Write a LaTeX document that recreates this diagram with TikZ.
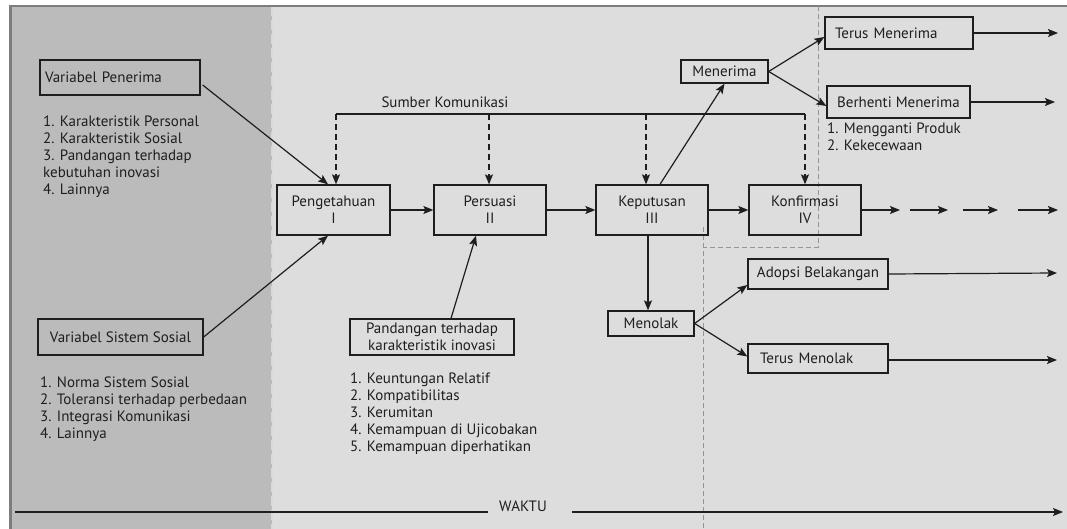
\documentclass[tikz,border=0pt]{standalone}
\usepackage{fontspec}
\setmainfont{PT Sans}
\usetikzlibrary{arrows.meta,calc}
\definecolor{darkbg}{RGB}{187,187,187}
\definecolor{lightbg}{RGB}{221,221,221}
\definecolor{framecol}{RGB}{125,125,125}
\definecolor{guide}{RGB}{150,150,150}
\definecolor{ink}{RGB}{30,30,30}
\begin{document}
\begin{tikzpicture}[x=1pt,y=-1pt,
  font=\fontsize{15}{17}\selectfont,
  box/.style={draw=ink, line width=1.3pt, inner sep=0pt, text=ink, align=center},
  arr/.style={draw=ink, line width=1.2pt, -{Stealth[length=10pt,width=8pt,inset=2pt]}},
  dasharr/.style={arr, dash pattern=on 6pt off 4pt},
  plain/.style={draw=ink, line width=1.2pt},
  lst/.style={anchor=north west, align=left, inner sep=0pt, text=ink},
  guideline/.style={draw=guide, line width=1pt, dash pattern=on 5pt off 3pt}]
\useasboundingbox (0,0) rectangle (1067,529);
% background panels
\fill[lightbg] (10,6) rectangle (1067,529);
\fill[darkbg] (10,6) rectangle (272,529);
\draw[gray!30, line width=1.5pt, dash pattern=on 10pt off 4pt] (272,6) -- (272,529);
\draw[framecol, line width=2pt] (1067,6) -- (10,6);
\draw[framecol, line width=3pt] (10,529) -- (10,5);

% guide dashed line
\draw[guideline] (818,6) -- (818,247) -- (703,247);
\draw[guideline] (703,227) -- (703,529);

% boxes
\node[box, minimum width=160, minimum height=35, text width=150, align=left] (vp) at (120,77.5) {Variabel Penerima};
\node[box, minimum width=165, minimum height=36] (vss) at (120.5,337) {Variabel Sistem Sosial};
\node[box, minimum width=113, minimum height=50] (peng) at (333.5,210) {Pengetahuan\\I};
\node[box, minimum width=112, minimum height=50] (pers) at (490,210) {Persuasi\\II};
\node[box, minimum width=112, minimum height=50] (kep) at (652,210) {Keputusan\\III};
\node[box, minimum width=112, minimum height=50] (konf) at (805,210) {Konfirmasi\\IV};
\node[box, minimum width=87, minimum height=23] (men) at (724.5,71.5) {Menerima};
\node[box, minimum width=148, minimum height=32, text width=128, align=left] (tm) at (899,33) {Terus Menerima};
\node[box, minimum width=143, minimum height=32] (bm) at (898.5,102) {Berhenti Menerima};
\node[box, minimum width=86, minimum height=25] (tolak) at (651,323.5) {Menolak};
\node[box, minimum width=140, minimum height=30] (ab) at (818,274) {Adopsi Belakangan};
\node[box, minimum width=140, minimum height=29, text width=116, align=left] (tmo) at (818,358.5) {Terus Menolak};
\node[box, minimum width=164, minimum height=36] (pand) at (432,337) {Pandangan terhadap\\karakteristik inovasi};

% lists
\node[lst] (vpl) at (43,116) {1. Karakteristik Personal\\2. Karakteristik Sosial\\3. Pandangan terhadap\\kebutuhan inovasi\\4. Lainnya};
\node[lst] (vssl) at (40,377) {1. Norma Sistem Sosial\\2. Toleransi terhadap perbedaan\\3. Integrasi Komunikasi\\4. Lainnya};
\node[lst] (pandl) at (350,373) {1. Keuntungan Relatif\\2. Kompatibilitas\\3. Kerumitan\\4. Kemampuan di Ujicobakan\\5. Kemampuan diperhatikan};
\node[lst] (bml) at (827,123) {1. Mengganti Produk\\2. Kekecewaan};

% communication sources
\node[text=ink, inner sep=0pt] (sk) at (445,102) {Sumber Komunikasi};
\coordinate (s1) at (336,114);
\coordinate (s2) at (489,114);
\coordinate (s3) at (646,114);
\coordinate (s4) at (805,114);
\draw[plain] (s1) -- (s4);
\draw[dasharr] (s1) -- (s1 |- peng.north);
\draw[dasharr] (s2) -- (s2 |- pers.north);
\draw[dasharr] (s3) -- (s3 |- kep.north);
\draw[dasharr] (s4) -- (s4 |- konf.north);

% connectors
\draw[arr] ($(vp.east)+(2,7.5)$) -- ($(peng.north)+(-5.5,0)$);
\draw[arr] (vss.east) -- ($(peng.south)+(-5.5,0)$);
\draw[arr] (peng.east) -- (pers.west);
\draw[arr] (pers.east) -- (kep.west);
\draw[arr] (kep.east) -- (konf.west);
\draw[arr] ($(kep.north)+(8,0)$) -- (men.south);
\draw[arr] (men.east) -- ($(tm.west)+(0,4)$);
\draw[arr] (men.east) -- ($(bm.west)+(0,4)$);
\coordinate (tmend) at (1058,33);
\coordinate (bmend) at (1055,102);
\draw[arr] (tm.east) -- (tmend);
\draw[arr] (bm.east) -- (bmend);
\coordinate (k1) at (900,210);
\coordinate (k2a) at (910,210);
\coordinate (k2b) at (948,210);
\coordinate (k3a) at (963,210);
\coordinate (k3b) at (998,210);
\coordinate (k4a) at (1018,210);
\coordinate (k4b) at (1058,210);
\draw[arr] (konf.east) -- (k1);
\draw[arr] (k2a) -- (k2b);
\draw[arr] (k3a) -- (k3b);
\draw[arr] (k4a) -- (k4b);
\draw[arr] ($(kep.south)+(-4,0)$) -- ($(tolak.north)+(-3,0)$);
\draw[arr] (tolak.east) -- ($(ab.west)+(0,11)$);
\draw[arr] (tolak.east) -- ($(tmo.west)+(0,-2)$);
\coordinate (abend) at (1057,273);
\coordinate (tmoend) at (1057,360);
\draw[arr] (ab.east) -- (abend);
\draw[arr] ($(tmo.east)+(0,1.5)$) -- (tmoend);
\draw[arr] ($(pand.north)+(19,0)$) -- ($(pers.south)+(-14,0)$);

% time axis
\node[text=ink, inner sep=0pt] (waktu) at (523,506) {WAKTU};
\coordinate (w0) at (15,512);
\coordinate (w1) at (488,512);
\coordinate (w2) at (572,512);
\coordinate (w3) at (1063,512);
\draw[plain] (w0) -- (w1);
\draw[arr] (w2) -- (w3);
\end{tikzpicture}
\end{document}
